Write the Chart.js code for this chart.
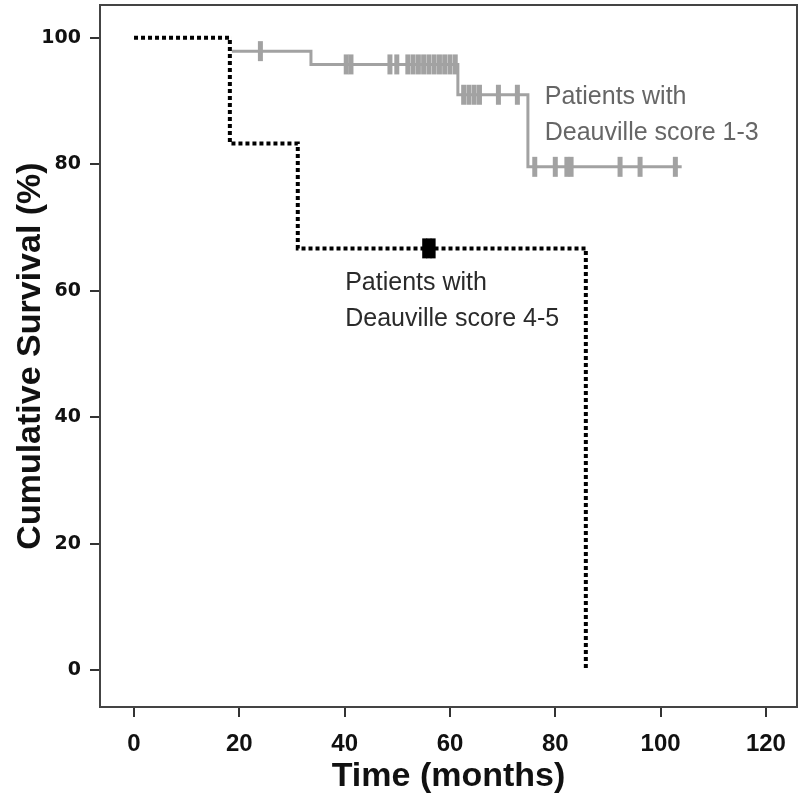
<!DOCTYPE html>
<html>
<head>
<meta charset="utf-8">
<script src="https://cdn.jsdelivr.net/npm/chart.js@4"></script>
<style>
  html, body { margin: 0; padding: 0; background: #fff; }
  #wrap { width: 800px; height: 799px; position: relative; }
</style>
</head>
<body>
<div id="wrap"><canvas id="kmChart"></canvas></div>
<script>
// --- axis ticks ---
const timeTicks = [0, 20, 40, 60, 80, 100, 120];
const survivalTicks = [0, 20, 40, 60, 80, 100];

// --- Deauville score 1-3 (grey solid) ---
const lowEventTimes = [0, 18.2, 33.6, 61.5, 74.8, 104.0];
const lowSurvival = [100, 97.9, 95.8, 91.0, 79.6, 79.6];
const lowCensored = [24.0, 40.3, 41.2, 48.6, 49.9, 52.0, 53.0, 54.0, 55.0, 56.0,
  57.0, 58.0, 59.0, 60.0, 61.0, 62.6, 63.6, 64.6, 65.6, 69.2, 72.8,
  76.1, 80.0, 82.2, 83.0, 92.3, 96.1, 102.8];

// --- Deauville score 4-5 (black dotted) ---
const highEventTimes = [0, 18.2, 31.1, 85.8];
const highSurvival = [100, 83.3, 66.7, 0];
const highCensored = [55.2, 56.0, 56.8];

const curveLabels = [
  { lines: ["Patients with", "Deauville score 1-3"], x: 78.0, y: 90.7, color: "#666" },
  { lines: ["Patients with", "Deauville score 4-5"], x: 40.1, y: 61.2, color: "#2a2a2a" },
];

const GREY = "#a2a2a2";

// step value of the curve at time t
function survivalAt(times, surv, t) {
  let s = surv[0];
  for (let i = 0; i < times.length; i++) {
    if (times[i] <= t) s = surv[i];
  }
  return s;
}

function toPoints(xs, ys) {
  return xs.map((x, i) => ({ x: x, y: ys[i] }));
}

function censorPoints(times, surv, censored) {
  return censored.map((t) => ({ x: t, y: survivalAt(times, surv, t) }));
}

// box around the plot + curve labels
const framePlugin = {
  id: "frame",
  afterDraw(chart) {
    const { ctx, chartArea, scales } = chart;
    ctx.save();
    ctx.strokeStyle = "#444";
    ctx.lineWidth = 2;
    ctx.strokeRect(chartArea.left, chartArea.top,
      chartArea.right - chartArea.left, chartArea.bottom - chartArea.top);

    ctx.font = "25px 'Liberation Sans', Arial, sans-serif";
    ctx.textBaseline = "middle";
    ctx.textAlign = "left";
    curveLabels.forEach((lab) => {
      const px = scales.x.getPixelForValue(lab.x);
      const py = scales.y.getPixelForValue(lab.y);
      ctx.fillStyle = lab.color;
      lab.lines.forEach((line, i) => ctx.fillText(line, px, py + i * 36));
    });
    ctx.restore();
  },
};

const xTickFont = { family: "'Liberation Sans', Arial, sans-serif", weight: "bold", size: 24 };
const yTickFont = { family: "'DejaVu Sans', sans-serif", weight: "bold", size: 19 };
const titleFont = { family: "'Liberation Sans', Arial, sans-serif", weight: "bold", size: 34 };

new Chart(document.getElementById("kmChart"), {
  type: "scatter",
  data: {
    datasets: [
      {
        label: "Deauville 1-3",
        data: toPoints(lowEventTimes, lowSurvival),
        showLine: true,
        stepped: true,
        borderColor: GREY,
        borderWidth: 3,
        pointRadius: 0,
        order: 4,
      },
      {
        label: "Deauville 1-3 censored",
        data: censorPoints(lowEventTimes, lowSurvival, lowCensored),
        pointStyle: "line",
        rotation: 90,
        pointRadius: 10,
        pointBorderWidth: 5,
        pointBorderColor: GREY,
        order: 3,
      },
      {
        // white underlay so the dot gaps stay white
        label: "underlay",
        data: toPoints(highEventTimes, highSurvival),
        showLine: true,
        stepped: true,
        borderColor: "#fff",
        borderWidth: 4,
        pointRadius: 0,
        order: 2,
      },
      {
        label: "Deauville 4-5",
        data: toPoints(highEventTimes, highSurvival),
        showLine: true,
        stepped: true,
        borderColor: "#000",
        borderWidth: 4,
        borderDash: [4, 3],
        borderCapStyle: "butt",
        pointRadius: 0,
        order: 1,
      },
      {
        label: "Deauville 4-5 censored",
        data: censorPoints(highEventTimes, highSurvival, highCensored),
        pointStyle: "line",
        rotation: 90,
        pointRadius: 10,
        pointBorderWidth: 5,
        pointBorderColor: "#000",
        order: 0,
      },
    ],
  },
  options: {
    responsive: true,
    maintainAspectRatio: false,
    animation: false,
    layout: { autoPadding: false, padding: { left: 0, top: 5, right: 3, bottom: 0 } },
    plugins: {
      legend: { display: false },
      tooltip: { enabled: false },
    },
    scales: {
      x: {
        type: "linear",
        min: -6.46,
        max: 125.9,
        afterBuildTicks: (scale) => { scale.ticks = timeTicks.map((v) => ({ value: v })); },
        afterFit: (scale) => {
          scale.height = 92;
          scale.paddingLeft = 0;
          scale.paddingRight = 0;
        },
        grid: { drawOnChartArea: false, drawTicks: true, tickLength: 10, color: "#333", lineWidth: 2 },
        border: { display: false },
        ticks: { color: "#111", font: xTickFont, padding: 13, maxRotation: 0 },
        title: {
          display: true,
          text: "Time (months)",
          color: "#111",
          font: titleFont,
          padding: { top: 0, bottom: 2 },
        },
      },
      y: {
        min: -5.85,
        max: 105.2,
        afterBuildTicks: (scale) => { scale.ticks = survivalTicks.map((v) => ({ value: v })); },
        afterFit: (scale) => {
          scale.width = 100;
          scale.paddingTop = 0;
          scale.paddingBottom = 0;
        },
        grid: { drawOnChartArea: false, drawTicks: true, tickLength: 10, color: "#333", lineWidth: 2 },
        border: { display: false },
        ticks: { color: "#111", font: yTickFont, padding: 9 },
        title: {
          display: true,
          text: "Cumulative Survival (%)",
          color: "#111",
          font: titleFont,
          padding: { top: 10, bottom: 0 },
        },
      },
    },
  },
  plugins: [framePlugin],
});
</script>
</body>
</html>
